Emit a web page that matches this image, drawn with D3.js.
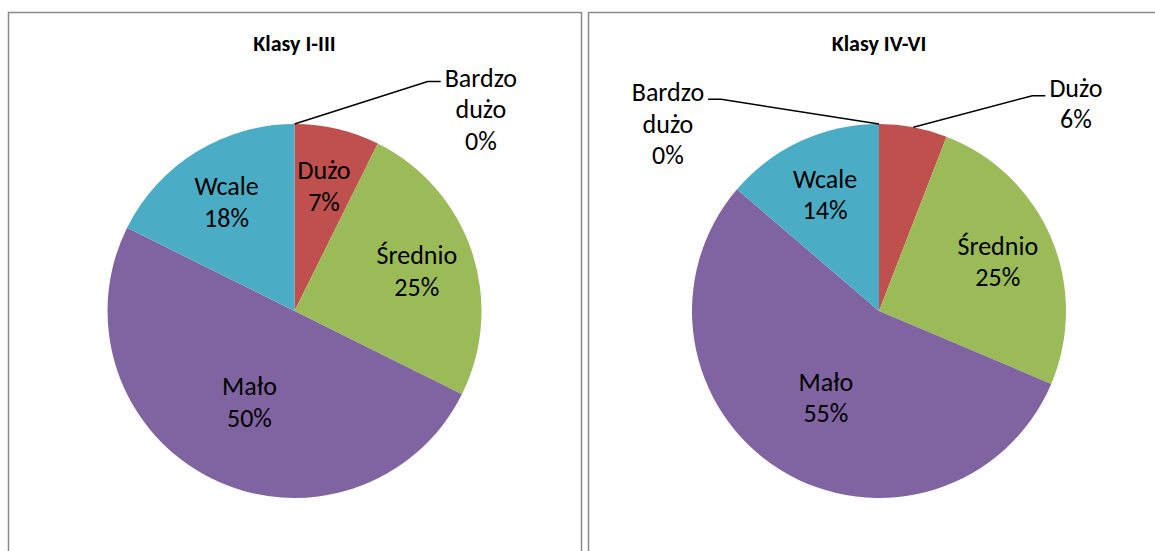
<!DOCTYPE html>
<html lang="pl">
<head>
<meta charset="UTF-8">
<title>Klasy I-III / Klasy IV-VI</title>
<script src="https://cdn.jsdelivr.net/npm/d3@7/dist/d3.min.js"></script>
<style>
    body { margin: 0; background: #fff; }
    text { font-family: Carlito, Lato, "Open Sans", sans-serif; fill: #000; }
</style>
</head>
<body>
<script>
    // dane
    var categories = ["Bardzo dużo", "Dużo", "Średnio", "Mało", "Wcale"];
    var valuesI_III = [0, 5, 17, 34, 12];
    var valuesIV_VI = [0, 3, 13, 28, 7];
    var titles = ["Klasy I-III", "Klasy IV-VI"];
    var colors = ["#4F81BD", "#C0504D", "#9BBB59", "#8064A2", "#4BACC6"];

    // etykiety poza wykresem: kategoria -> [kąt zaczepienia (stopnie), przesunięcie tekstu w pionie]
    var outsideI_III = {"Bardzo dużo": [32.5, 5]};
    var outsideIV_VI = {"Bardzo dużo": [-38.9, 2], "Dużo": [37.7, 1]};

    var widthSVG = 1155, heightSVG = 551;
    var svg = d3.select("body").append("svg")
                .attr("width", widthSVG)
                .attr("height", heightSVG);

    var fmt = d3.format(".0%");

    function drawPie(panelX, panelW, title, values, outside){
        var g = svg.append("g");

        // ramka wykresu
        g.append("rect")
            .attr("x", panelX + 0.5).attr("y", 12.5)
            .attr("width", panelW).attr("height", 600)
            .attr("fill", "#fff")
            .attr("stroke", "#8a8a8a")
            .attr("stroke-width", 1.5);

        var cx = panelX + panelW / 2, cy = 311, R = 187;

        g.append("text")
            .attr("x", cx).attr("y", 51)
            .attr("text-anchor", "middle")
            .attr("font-size", "22px")
            .attr("font-weight", "bold")
            .text(title);

        var total = d3.sum(values);
        var pie = d3.pie().sort(null).value(function (d){ return d; });
        var arcs = pie(values);
        var arc = d3.arc().innerRadius(0).outerRadius(R);

        var chart = g.append("g").attr("transform", "translate(" + cx + "," + cy + ")");

        chart.selectAll("path")
            .data(arcs)
            .enter()
            .append("path")
            .attr("d", arc)
            .attr("fill", function (d, i){ return colors[i]; });

        var lineH = 31.5, fs = 26;

        arcs.forEach(function (d, i){
            var name = categories[i];
            var pct = fmt(values[i] / total);
            var mid = (d.startAngle + d.endAngle) / 2;

            if (outside[name] !== undefined) {
                var lines = name.split(" ").concat([pct]);
                var a = outside[name][0] * Math.PI / 180;
                var ex = Math.sin(a) * R * 1.455, ey = -Math.cos(a) * R * 1.455;
                var side = a >= 0 ? 1 : -1;
                // linia odniesienia
                chart.append("polyline")
                    .attr("points", [
                        [Math.sin(mid) * R, -Math.cos(mid) * R],
                        [ex - side * 13, ey],
                        [ex, ey]
                    ].join(" "))
                    .attr("fill", "none")
                    .attr("stroke", "#000")
                    .attr("stroke-width", 1.5);

                var t = chart.append("text")
                    .attr("font-size", fs + "px")
                    .attr("text-anchor", "middle");
                var spans = lines.map(function (l, k){
                    return t.append("tspan").attr("y", ey + outside[name][1] + k * lineH).text(l);
                });
                var maxW = d3.max(spans, function (s){ return s.node().getComputedTextLength(); });
                var tx = ex + side * (4 + maxW / 2);
                spans.forEach(function (s){ s.attr("x", tx); });
            } else {
                var share = values[i] / total;
                var r = share > 0.4 ? R * 0.54 : R * 0.69;
                var lx = Math.sin(mid) * r, ly = -Math.cos(mid) * r;
                var t2 = chart.append("text")
                    .attr("font-size", fs + "px")
                    .attr("text-anchor", "middle");
                t2.append("tspan").attr("x", lx).attr("y", ly - 6).text(name);
                t2.append("tspan").attr("x", lx).attr("y", ly - 6 + lineH).text(pct);
            }
        });
    }

    drawPie(8, 573, titles[0], valuesI_III, outsideI_III);
    drawPie(588, 582, titles[1], valuesIV_VI, outsideIV_VI);
</script>
</body>
</html>
